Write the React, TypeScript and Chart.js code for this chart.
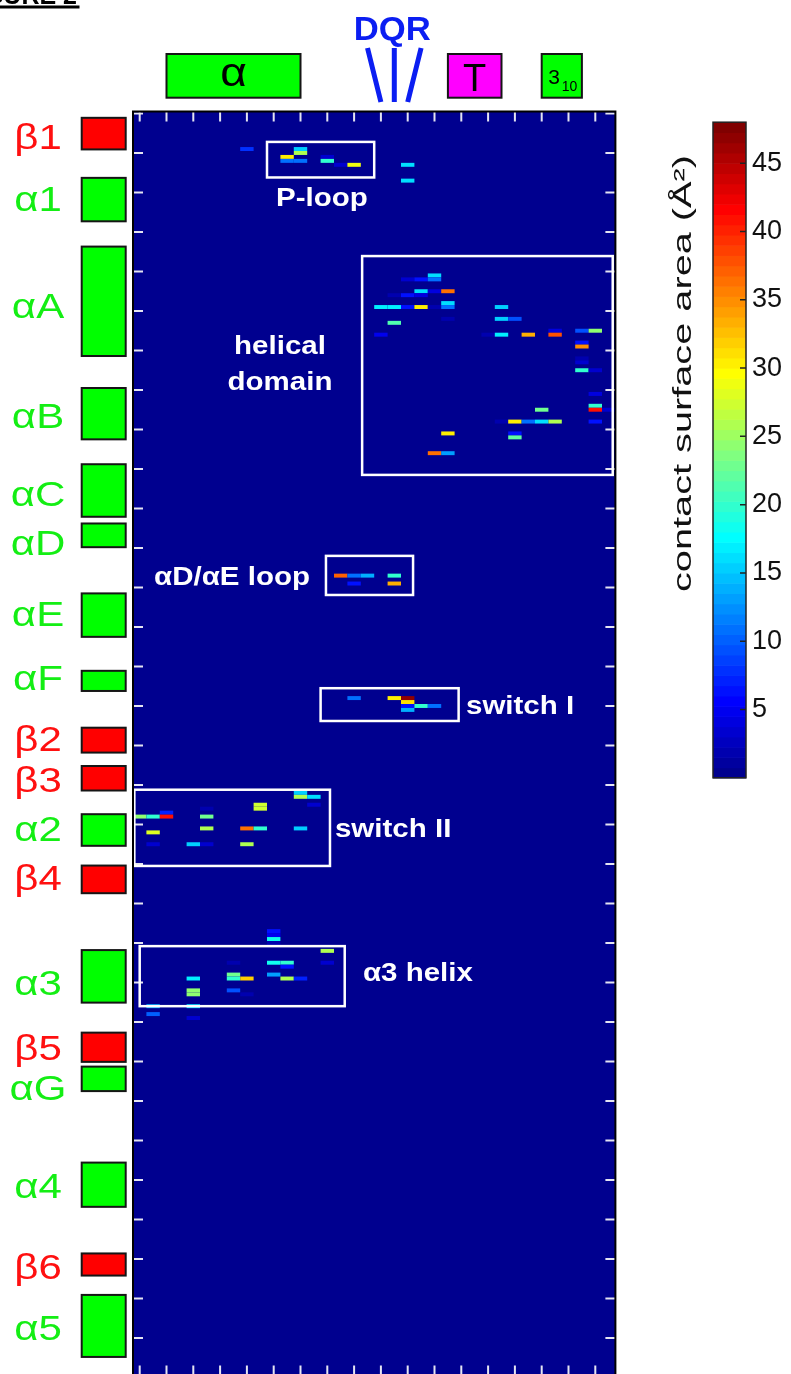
import React, { useEffect, useRef } from 'react';
import { Chart, registerables } from 'chart.js';

Chart.register(...registerables);

const FONT = '"Liberation Sans", Arial, Helvetica, sans-serif';
const CMAX = 48;
const NCOLORS = 64;

// ---- heat-map cells: column (x), residue row (y), contact surface area (Å²) ----
const cellCols = [
  8, 11, 11, 12, 12, 12, 14, 14, 15, 16, 20, 20,
  22, 20, 21, 22, 21, 22, 23, 19, 20, 21, 23, 18, 19, 20, 21, 22, 23, 27, 23, 27, 28, 19, 31, 33, 34, 18, 26, 27, 29, 31, 33, 33, 33, 33, 33, 34, 34, 34, 34, 35, 30, 27, 28, 29, 30, 31, 34, 23, 28, 28, 22, 23,
  15, 16, 17, 19, 16, 19,
  16, 19, 20, 20, 20, 21, 22, 20,
  12, 12, 13, 9, 9, 13, 5, 2, 0, 1, 2, 5, 5, 8, 9, 12, 1, 1, 4, 5, 8,
  10, 10, 10, 10, 14, 7, 10, 11, 14, 11, 7, 10, 4, 7, 8, 11, 12, 4, 4, 7, 8, 1, 4, 1, 4,
];
const cellRows = [
  9, 11, 12, 9, 10, 12, 11, 12, 13, 13, 13, 17,
  41, 42, 42, 42, 45, 45, 45, 46, 46, 46, 48, 49, 49, 49, 49, 49, 49, 49, 52, 52, 52, 53, 55, 55, 55, 56, 56, 56, 56, 56, 58, 59, 62, 63, 65, 65, 71, 74, 75, 75, 75, 78, 78, 78, 78, 78, 78, 81, 81, 82, 86, 86,
  117, 117, 117, 117, 119, 119,
  148, 148, 148, 149, 150, 150, 150, 151,
  172, 173, 173, 175, 176, 175, 176, 177, 178, 178, 178, 178, 181, 181, 181, 181, 182, 185, 185, 185, 185,
  207, 208, 209, 210, 212, 215, 215, 215, 215, 216, 218, 218, 219, 219, 219, 219, 219, 222, 223, 222, 223, 226, 226, 228, 229,
];
const cellValues = [
  8, 30, 11, 15, 26, 11, 3, 20, 3, 29, 16, 16,
  16, 3, 6, 11, 16, 4, 36, 2, 6, 4, 16, 17, 17, 6, 30, 2, 11, 15, 2, 15, 9, 21, 4, 9, 24, 5, 2, 17, 33, 38, 6, 35, 2, 3, 20, 3, 4, 20, 41, 3, 23, 2, 30, 11, 16, 26, 6, 30, 6, 22, 36, 13,
  37, 11, 14, 20, 6, 33,
  11, 30, 47, 31, 6, 20, 11, 14,
  15, 26, 16, 27, 27, 3, 2, 7, 24, 20, 41, 23, 26, 36, 20, 15, 28, 3, 15, 3, 26,
  6, 5, 18, 2, 26, 2, 18, 20, 3, 6, 23, 13, 17, 20, 32, 26, 7, 24, 24, 9, 2, 14, 16, 10, 3,
];

// ---- axes ----
const xTickValues = [0, 2, 4, 6, 8, 10, 12, 14, 16, 18, 20, 22, 24, 26, 28, 30, 32, 34];
const yTickValues = [0, 10, 20, 30, 40, 50, 60, 70, 80, 90, 100, 110, 120, 130, 140, 150, 160, 170, 180, 190, 200, 210, 220, 230, 240, 250, 260, 270, 280, 290, 300, 310];
const colorbarTicks = [5, 10, 15, 20, 25, 30, 35, 40, 45];

// ---- secondary structure of the row protein (left) ----
const ssNames = ['β1', 'α1', 'αA', 'αB', 'αC', 'αD', 'αE', 'αF', 'β2', 'β3', 'α2', 'β4', 'α3', 'β5', 'αG', 'α4', 'β6', 'α5'];
const ssStart = [1.1, 16.3, 33.7, 69.5, 88.8, 103.8, 121.5, 141.1, 155.5, 165.2, 177.4, 190.4, 211.8, 232.7, 241.3, 265.6, 288.6, 299.1];
const ssEnd = [9.1, 27.3, 61.4, 82.5, 102.1, 109.8, 132.5, 146.2, 161.8, 171.4, 185.4, 197.4, 225.1, 240.1, 247.5, 276.8, 294.2, 314.8];
const ssLabelAt = [5.8, 21.5, 48.6, 76.5, 96.1, 108.7, 126.7, 142.9, 158.3, 168.7, 181.1, 193.5, 219.9, 236.4, 246.7, 271.3, 291.8, 307.3];

// ---- secondary structure of the column protein (top) ----
const topNames = ['α', 'T', '3₁₀'];
const topStart = [2, 23, 30];
const topEnd = [12, 27, 33];
const dqrTop = [17, 19, 21];
const dqrBottom = [18, 19, 20];

// ---- highlighted regions ----
const regionX0 = [9.5, 16.6, 13.9, 13.5, -0.4, 0.0];
const regionX1 = [17.5, 35.3, 20.4, 23.8, 14.2, 15.3];
const regionY0 = [7.2, 36.1, 112.0, 145.5, 171.2, 210.8];
const regionY1 = [16.2, 91.5, 121.9, 153.8, 190.5, 226.0];
const regionText = ['P-loop', 'helical', 'domain', 'αD/αE loop', 'switch I', 'switch II', 'α3 helix'];
const regionTextX = [13.6, 10.47, 10.47, 6.89, 24.35, 14.57, 16.66];
const regionTextY = [21.1, 58.6, 67.7, 117.1, 149.7, 180.9, 217.3];
const regionTextAlign = ['center', 'center', 'center', 'center', 'left', 'left', 'left'];

function jetColor(i: number) {
  const u = (k: number) => (k < 1 || k > 47 ? 0 : k <= 16 ? k / 16 : k <= 31 ? 1 : (48 - k) / 16);
  return `rgb(${Math.round(u(i - 24) * 255)},${Math.round(u(i - 8) * 255)},${Math.round(u(i + 8) * 255)})`;
}
function colorIndex(v: number) {
  return Math.min(NCOLORS, Math.max(1, Math.floor((v / CMAX) * NCOLORS) + 1));
}
function stretchText(ctx: CanvasRenderingContext2D, text: string, x: number, y: number, sx: number, align: CanvasTextAlign) {
  ctx.save();
  ctx.translate(x, y);
  ctx.scale(sx, 1);
  ctx.textAlign = align;
  ctx.fillText(text, 0, 0);
  ctx.restore();
}

const heatPlugin = {
  id: 'heatCells',
  beforeDatasetsDraw(chart: any) {
    const { ctx, chartArea: a } = chart;
    const xs = chart.scales.x;
    const ys = chart.scales.y;
    ctx.save();
    ctx.fillStyle = jetColor(1);
    ctx.fillRect(a.left, a.top, a.right - a.left, a.bottom - a.top);
    for (let i = 0; i < cellCols.length; i++) {
      const x0 = xs.getPixelForValue(cellCols[i] - 0.5);
      const x1 = xs.getPixelForValue(cellCols[i] + 0.5);
      const y0 = ys.getPixelForValue(cellRows[i] - 0.5);
      const y1 = ys.getPixelForValue(cellRows[i] + 0.5);
      ctx.fillStyle = jetColor(colorIndex(cellValues[i]));
      ctx.fillRect(Math.min(x0, x1), Math.min(y0, y1), Math.abs(x1 - x0), Math.abs(y1 - y0));
    }
    ctx.restore();
  },
  afterDraw(chart: any) {
    const { ctx, chartArea: a } = chart;
    const xs = chart.scales.x;
    const ys = chart.scales.y;
    ctx.save();
    // inward ticks
    ctx.strokeStyle = '#e4e4f2';
    ctx.lineWidth = 2;
    ctx.beginPath();
    for (const t of xTickValues) {
      const px = xs.getPixelForValue(t);
      ctx.moveTo(px, a.top); ctx.lineTo(px, a.top + 10);
      ctx.moveTo(px, a.bottom); ctx.lineTo(px, a.bottom - 10);
    }
    for (const t of yTickValues) {
      const py = ys.getPixelForValue(t);
      ctx.moveTo(a.left, py); ctx.lineTo(a.left + 10, py);
      ctx.moveTo(a.right, py); ctx.lineTo(a.right - 10, py);
    }
    ctx.stroke();
    // region boxes
    ctx.strokeStyle = '#ffffff';
    ctx.lineWidth = 2.5;
    for (let i = 0; i < regionX0.length; i++) {
      const x0 = xs.getPixelForValue(regionX0[i]);
      const x1 = xs.getPixelForValue(regionX1[i]);
      const y0 = ys.getPixelForValue(regionY0[i]);
      const y1 = ys.getPixelForValue(regionY1[i]);
      ctx.strokeRect(x0, y0, x1 - x0, y1 - y0);
    }
    // region labels
    ctx.fillStyle = '#ffffff';
    ctx.font = `bold 25px ${FONT}`;
    ctx.textBaseline = 'alphabetic';
    for (let i = 0; i < regionText.length; i++) {
      stretchText(ctx, regionText[i], xs.getPixelForValue(regionTextX[i]), ys.getPixelForValue(regionTextY[i]) + 9, 1.18, regionTextAlign[i] as CanvasTextAlign);
    }
    // plot frame
    ctx.strokeStyle = '#000000';
    ctx.lineWidth = 2;
    ctx.strokeRect(a.left, a.top, a.right - a.left, a.bottom - a.top);

    // left secondary structure
    for (let i = 0; i < ssNames.length; i++) {
      const beta = ssNames[i].startsWith('β');
      const y0 = ys.getPixelForValue(ssStart[i]);
      const y1 = ys.getPixelForValue(ssEnd[i]);
      ctx.fillStyle = beta ? '#ff0000' : '#00ff00';
      ctx.fillRect(a.left - 51.3, y0, 44, y1 - y0);
      ctx.strokeStyle = '#151515';
      ctx.lineWidth = 2;
      ctx.strokeRect(a.left - 51.3, y0, 44, y1 - y0);
      ctx.fillStyle = beta ? '#ff1010' : '#14ee14';
      ctx.font = `35px ${FONT}`;
      stretchText(ctx, ssNames[i], 38, ys.getPixelForValue(ssLabelAt[i]) + 12.5, 1.2, 'center');
    }

    // top secondary structure
    for (let i = 0; i < topNames.length; i++) {
      const x0 = xs.getPixelForValue(topStart[i]);
      const x1 = xs.getPixelForValue(topEnd[i]);
      ctx.fillStyle = topNames[i] === 'T' ? '#ff00ff' : '#00ff00';
      ctx.fillRect(x0, 54, x1 - x0, 43.7);
      ctx.strokeStyle = '#151515';
      ctx.lineWidth = 2;
      ctx.strokeRect(x0, 54, x1 - x0, 43.7);
      ctx.fillStyle = '#000000';
      const cx = (x0 + x1) / 2;
      if (topNames[i] === 'α') {
        ctx.font = `40px ${FONT}`;
        stretchText(ctx, 'α', cx, 85.5, 1.15, 'center');
      } else if (topNames[i] === 'T') {
        ctx.font = `38px ${FONT}`;
        stretchText(ctx, 'T', cx, 91, 1.0, 'center');
      } else {
        ctx.font = `21px ${FONT}`;
        stretchText(ctx, '3', x0 + 6.5, 83.5, 1.0, 'left');
        ctx.font = `14px ${FONT}`;
        stretchText(ctx, '10', x0 + 20, 90.5, 1.0, 'left');
      }
    }
    // DQR marks
    ctx.strokeStyle = '#0b1ef2';
    ctx.lineWidth = 5;
    ctx.beginPath();
    for (let i = 0; i < dqrTop.length; i++) {
      ctx.moveTo(xs.getPixelForValue(dqrTop[i]), 48);
      ctx.lineTo(xs.getPixelForValue(dqrBottom[i]), 102);
    }
    ctx.stroke();
    ctx.fillStyle = '#0b1ef2';
    ctx.font = `bold 34px ${FONT}`;
    stretchText(ctx, 'DQR', xs.getPixelForValue(19) - 2, 39.5, 1.02, 'center');

    // figure title (cut off at the top)
    ctx.fillStyle = '#000000';
    ctx.font = `bold 25px ${FONT}`;
    stretchText(ctx, 'FIGURE 2', 77, 4, 1.0, 'right');
    ctx.fillRect(0, 5.5, 79.5, 3);
    ctx.restore();
  },
};

const colorbarPlugin = {
  id: 'colorbar',
  afterDraw(chart: any) {
    const { ctx, chartArea: a } = chart;
    const ys = chart.scales.y;
    ctx.save();
    for (let i = 1; i <= NCOLORS; i++) {
      const p0 = ys.getPixelForValue(((i - 1) * CMAX) / NCOLORS);
      const p1 = ys.getPixelForValue((i * CMAX) / NCOLORS);
      ctx.fillStyle = jetColor(i);
      ctx.fillRect(a.left, p1, a.right - a.left, p0 - p1 + 0.6);
    }
    ctx.strokeStyle = '#222222';
    ctx.lineWidth = 1.5;
    ctx.strokeRect(a.left, a.top, a.right - a.left, a.bottom - a.top);
    ctx.beginPath();
    for (const t of colorbarTicks) {
      const py = ys.getPixelForValue(t);
      ctx.moveTo(a.right, py);
      ctx.lineTo(a.right - 6, py);
    }
    ctx.stroke();
    // axis title
    ctx.fillStyle = '#111111';
    ctx.font = `26px ${FONT}`;
    ctx.textBaseline = 'middle';
    ctx.translate(a.left - 29, 273.5);
    ctx.rotate(-Math.PI / 2);
    const text = 'contact surface area (Å²)';
    const w = ctx.measureText(text).width;
    ctx.scale(437 / w, 1);
    ctx.textAlign = 'center';
    ctx.fillText(text, 0, 0);
    ctx.restore();
  },
};

export default function App() {
  const mainRef = useRef<HTMLCanvasElement>(null);
  const cbRef = useRef<HTMLCanvasElement>(null);

  useEffect(() => {
    const points = cellCols.map((c, i) => ({ x: c, y: cellRows[i] }));
    const main = new Chart(mainRef.current as HTMLCanvasElement, {
      type: 'scatter',
      data: { datasets: [{ data: points, pointRadius: 0, pointHoverRadius: 0 }] },
      options: {
        responsive: false,
        animation: false,
        devicePixelRatio: 1,
        layout: { padding: { left: 133, top: 111.5, right: 175.6, bottom: 4.5 } },
        plugins: { legend: { display: false }, tooltip: { enabled: false } },
        events: [],
        scales: {
          x: { type: 'linear', min: -0.5, max: 35.5, display: false },
          y: { type: 'linear', min: -0.5, max: 319.5, reverse: true, display: false },
        },
      },
      plugins: [heatPlugin],
    } as any);

    const cb = new Chart(cbRef.current as HTMLCanvasElement, {
      type: 'scatter',
      data: { datasets: [] },
      options: {
        responsive: false,
        animation: false,
        devicePixelRatio: 1,
        events: [],
        layout: { padding: { left: 73, top: 22, right: 0, bottom: 21 } },
        plugins: { legend: { display: false }, tooltip: { enabled: false } },
        scales: {
          x: { display: false, min: 0, max: 1 },
          y: {
            position: 'right',
            min: 0,
            max: CMAX,
            afterBuildTicks: (s: any) => { s.ticks = colorbarTicks.map((v) => ({ value: v })); },
            afterFit: (s: any) => { s.width = 45; },
            ticks: { color: '#111111', font: { family: FONT, size: 27 }, padding: 6 },
            grid: { drawOnChartArea: false, drawTicks: false },
            border: { display: false },
          },
        },
      },
      plugins: [colorbarPlugin],
    } as any);

    return () => { main.destroy(); cb.destroy(); };
  }, []);

  return (
    <div style={{ position: 'absolute', left: 0, top: 0, width: 791, height: 1374, overflow: 'hidden', background: '#ffffff' }}>
      <canvas ref={mainRef} width={791} height={1380} style={{ position: 'absolute', left: 0, top: 0 }} />
      <canvas ref={cbRef} width={151} height={700} style={{ position: 'absolute', left: 640, top: 100 }} />
    </div>
  );
}
